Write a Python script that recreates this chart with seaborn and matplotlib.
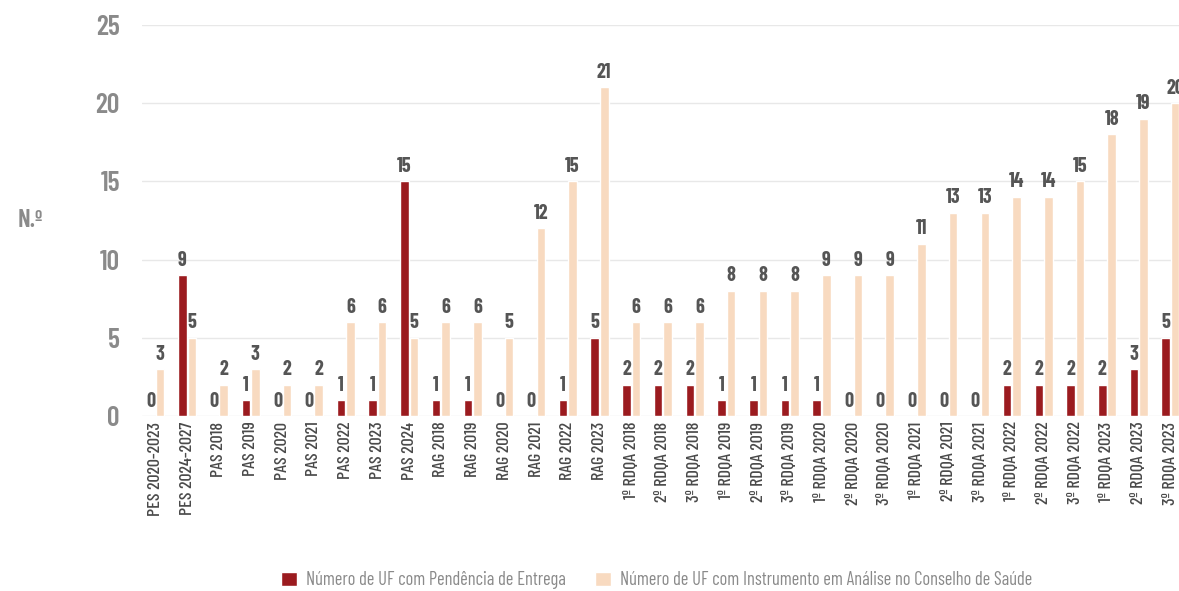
import pandas as pd
import matplotlib.pyplot as plt
import seaborn as sns

categorias = [
    "PES 2020-2023", "PES 2024-2027",
    "PAS 2018", "PAS 2019", "PAS 2020", "PAS 2021", "PAS 2022", "PAS 2023", "PAS 2024",
    "RAG 2018", "RAG 2019", "RAG 2020", "RAG 2021", "RAG 2022", "RAG 2023",
    "1º RDQA 2018", "2º RDQA 2018", "3º RDQA 2018",
    "1º RDQA 2019", "2º RDQA 2019", "3º RDQA 2019",
    "1º RDQA 2020", "2º RDQA 2020", "3º RDQA 2020",
    "1º RDQA 2021", "2º RDQA 2021", "3º RDQA 2021",
    "1º RDQA 2022", "2º RDQA 2022", "3º RDQA 2022",
    "1º RDQA 2023", "2º RDQA 2023", "3º RDQA 2023",
]
pendencia = [0, 9, 0, 1, 0, 0, 1, 1, 15, 1, 1, 0, 0, 1, 5,
             2, 2, 2, 1, 1, 1, 1, 0, 0, 0, 0, 0, 2, 2, 2, 2, 3, 5]
analise = [3, 5, 2, 3, 2, 2, 6, 6, 5, 6, 6, 5, 12, 15, 21,
           6, 6, 6, 8, 8, 8, 9, 9, 9, 11, 13, 13, 14, 14, 15, 18, 19, 20]
series = ["Número de UF com Pendência de Entrega",
          "Número de UF com Instrumento em Análise no Conselho de Saúde"]
cores = ["#9B1B1F", "#F8DAC0"]

df = pd.concat([
    pd.DataFrame({"Instrumento": categorias, "Serie": series[0], "Valor": pendencia}),
    pd.DataFrame({"Instrumento": categorias, "Serie": series[1], "Valor": analise}),
])

sns.set_theme(style="white")
plt.rcParams["font.family"] = ["Barlow Condensed", "DejaVu Sans"]

fig, ax = plt.subplots(figsize=(11.79, 5.91), dpi=100)
fig.subplots_adjust(left=0.1205, right=1.0, top=0.958, bottom=0.296)

sns.barplot(data=df, x="Instrumento", y="Valor", hue="Serie", palette=cores,
            width=0.6, gap=0.1, saturation=1, ax=ax, legend=True)

for cont in ax.containers:
    ax.bar_label(cont, padding=4, fontsize=14.5, color="#555555", fontweight="bold")

ax.set_ylim(0, 25)
ax.set_yticks([0, 5, 10, 15, 20, 25])
ax.set_xlim(-0.42, 32.27)
ax.yaxis.grid(True, color="#e8e8e8", linewidth=1)
ax.set_axisbelow(True)
for s in ax.spines.values():
    s.set_visible(False)
ax.tick_params(axis="y", labelsize=20, labelcolor="#8a8a8a", length=0, pad=16)
ax.tick_params(axis="x", labelsize=13, labelcolor="#4a4a4a", length=0, pad=4)
plt.setp(ax.get_xticklabels(), rotation=90, fontweight="medium")
for t in ax.get_yticklabels():
    t.set_fontweight("semibold")
ax.set_xlabel("")
ax.set_ylabel("N.º", fontsize=18, color="#8a8a8a", rotation=0, fontweight="semibold")
ax.yaxis.set_label_coords(-0.108, 0.47)

h, l = ax.get_legend_handles_labels()
ax.get_legend().remove()
fig.legend(h, l, loc="center", bbox_to_anchor=(0.557, 0.018), ncol=2, frameon=False,
           fontsize=13.3, labelcolor="#8a8a8a", handlelength=0.85, handleheight=0.85,
           columnspacing=1.6, handletextpad=0.5)

fig.savefig("out.png", dpi=100)
